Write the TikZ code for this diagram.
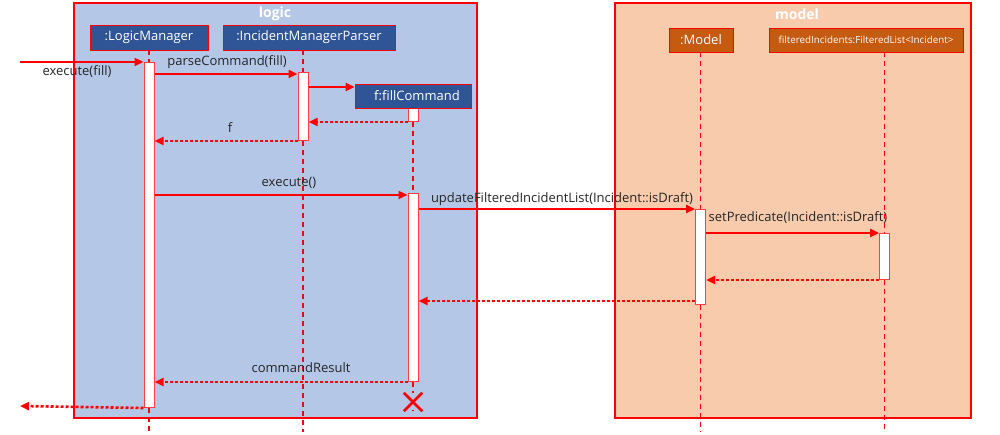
\documentclass[tikz,border=0pt]{standalone}
\usepackage{fontspec}
\setmainfont{Open Sans}
\usetikzlibrary{arrows.meta,shapes.misc}
\definecolor{logicbg}{HTML}{B4C7E7}
\definecolor{modelbg}{HTML}{F8CBAD}
\definecolor{logicobj}{HTML}{2F5597}
\definecolor{modelobj}{HTML}{C55A11}
\definecolor{labeltext}{HTML}{262626}
\tikzset{
  frame/.style={draw=red, line width=2pt, anchor=north west, inner sep=0pt},
  obj/.style={draw=red, line width=0.8pt, text=white, minimum height=25pt, inner sep=0pt,
    font=\fontsize{13}{15}\selectfont},
  life/.style={red, line width=1.6pt, dash pattern=on 5pt off 4pt},
  bar/.style={draw=red!75, fill=white, line width=1pt, minimum width=10pt, inner sep=0pt, anchor=north},
  msg/.style={red, line width=2.6pt, -{Triangle[length=9pt,width=8pt]}},
  ret/.style={msg, dash pattern=on 3pt off 2pt},
  lbl/.style={text=labeltext, font=\fontsize{13}{15}\selectfont, inner sep=0pt},
  title/.style={text=white, font=\bfseries\fontsize{14}{16}\selectfont, inner sep=0pt},
  destroy/.style={cross out, draw=red, line width=2.5pt, minimum size=16pt, inner sep=0pt}
}
\begin{document}
\begin{tikzpicture}[x=1pt, y=-1pt]
  \useasboundingbox (0,0) rectangle (1000,435);
  % Rahmen
  \node[frame, fill=logicbg, minimum width=403pt, minimum height=415pt] (logic) at (73,2) {};
  \node[frame, fill=modelbg, minimum width=356pt, minimum height=415pt] (model) at (614,2) {};
  \node[title] (logictitle) at (275,14) {logic};
  \node[title] (modeltitle) at (797,14) {model};
  % Aktivierungen
  \node[bar, minimum height=345pt] (lmbar) at (149,62) {};
  \node[bar, minimum height=68pt] (impbar) at (303,72) {};
  \node[bar, minimum height=13pt] (fcbar1) at (413,108) {};
  \node[bar, minimum height=188pt] (fcbar2) at (413,193) {};
  \node[bar, minimum height=95pt] (mbar) at (700.5,209) {};
  \node[bar, minimum height=46pt] (flbar) at (884.5,233) {};
  % Objekte
  \node[obj, fill=logicobj, minimum width=118pt] (lm) at (149,37.5) {:LogicManager};
  \node[obj, fill=logicobj, minimum width=172pt] (imp) at (309,37.5) {:IncidentManagerParser};
  \node[obj, fill=logicobj, minimum width=116pt, minimum height=24pt] (fc) at (413,96) {\hspace{8pt}f:fillCommand};
  \node[obj, fill=modelobj, minimum width=64pt, minimum height=24pt] (mdl) at (701,40) {:Model};
  \node[obj, fill=modelobj, minimum width=194pt, minimum height=24pt, font=\fontsize{9.8}{11}\selectfont] (fl) at (866,40) {filteredIncidents:FilteredList<Incident>};
  \node[destroy] (fcx) at (413,402) {};
  % Lebenslinien
  \draw[life] (lm.south) -- (lmbar.north);
  \draw[life] (lmbar.south) -- (lmbar |- 0,432);
  \draw[life] (imp.south -| impbar) -- (impbar.north);
  \draw[life] (impbar.south) -- (impbar |- 0,432);
  \draw[life] (fcbar1.south) -- (fcbar2.north);
  \draw[life] (fcbar2.south) -- (fcx.north);
  \draw[life] (fcx.south) -- (fcx |- 0,410);
  \draw[life] (mdl.south -| mbar) -- (mbar.north);
  \draw[life] (mbar.south) -- (mbar |- 0,432);
  \draw[life] (fl.south -| flbar) -- (flbar.north);
  \draw[life] (flbar.south) -- (flbar |- 0,432);
  % Nachrichten
  \coordinate (caller) at (20,62);
  \coordinate (back) at (20,406);
  \draw[msg] (caller) -- (lmbar.north west);
  \node[lbl] (l1) at (77,72) {execute(fill)};
  \draw[msg] (lmbar.east |- 0,74) -- (impbar.west |- 0,74);
  \node[lbl] (l2) at (227,62) {parseCommand(fill)};
  \draw[msg] (impbar.east |- 0,87) -- (fc.west |- 0,87);
  \draw[ret] (fcbar1.south west) -- (impbar.east |- fcbar1.south);
  \draw[ret] (impbar.south west) -- (lmbar.east |- impbar.south);
  \node[lbl] (l3) at (230,128) {f};
  \draw[msg] (lmbar.east |- 0,195) -- (fcbar2.west |- 0,195);
  \node[lbl] (l4) at (289,183) {execute()};
  \draw[msg] (fcbar2.east |- mbar.north) -- (mbar.north west);
  \node[lbl] (l5) at (562,199) {updateFilteredIncidentList(Incident::isDraft)};
  \draw[msg] (mbar.east |- flbar.north) -- (flbar.north west);
  \node[lbl] (l6) at (798,218) {setPredicate(Incident::isDraft)};
  \draw[ret] (flbar.south west) -- (mbar.east |- flbar.south);
  \draw[ret] (mbar.west |- 0,301) -- (fcbar2.east |- 0,301);
  \draw[ret] (fcbar2.south west) -- (lmbar.east |- fcbar2.south);
  \node[lbl] (l7) at (301,368) {commandResult};
  \draw[ret] (lmbar.south west) -- (back);
\end{tikzpicture}
\end{document}
